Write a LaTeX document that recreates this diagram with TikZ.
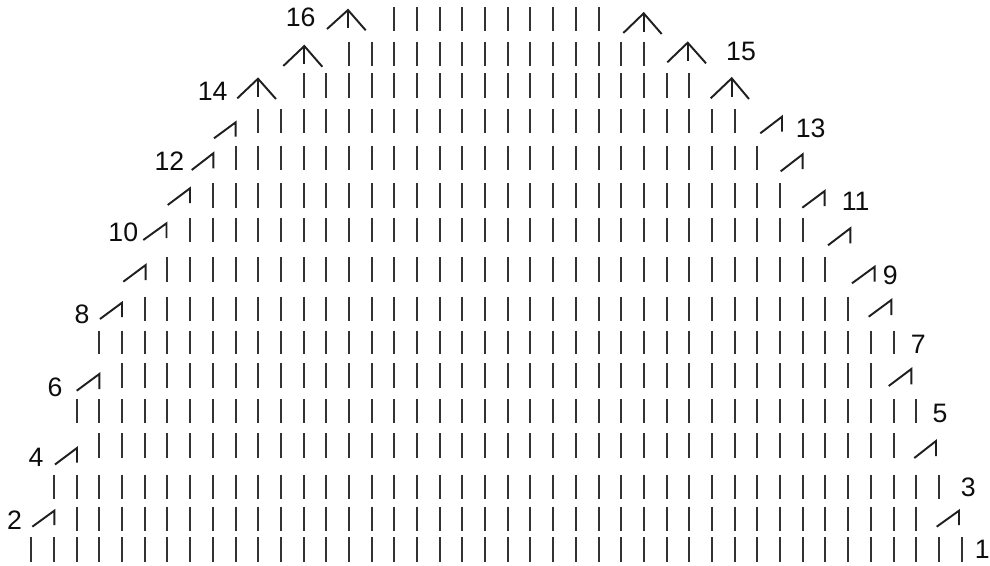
\documentclass[tikz,border=0pt]{standalone}
\usepackage{fontspec}
\setmainfont{Liberation Sans}
\tikzset{
  tick/.style={line width=1.5pt,color=black!80,line cap=butt},
  mark line/.style={line width=1.45pt,color=black!88,line cap=butt,line join=miter},
  num/.style={inner sep=0pt,font=\fontsize{20}{22}\selectfont,color=black!95}
}
\begin{document}
\begin{tikzpicture}[x=0.75pt,y=-0.75pt]
\useasboundingbox (0,0) rectangle (990,565);
% rows of ticks: top / bottom / first column / last column
\foreach \t/\b/\f/\l in {
  537.3/561.7/0/41, 506.7/531/2/39, 474.7/498.7/1/40, 433.3/457.7/3/38,
  399/423/2/39, 363.3/387.7/4/37, 330.7/354.3/3/38, 296.7/321/5/36,
  257.3/281.7/6/35, 217.7/241.7/7/34, 183.3/207.7/8/33, 145.7/170/9/32,
  109/133/10/31, 73.3/98.3/12/29, 41.7/65.7/14/27, 7/31/16/25}{
  \foreach \c in {\f,...,\l}{
    \pgfmathsetmacro{\xx}{31.3+22.69*\c}
    \draw[tick] (\xx,\t) -- (\xx,\b);
  }
}
% decrease marks: vertex x / top y / low x / low y / stem bottom
\foreach \vx/\vy/\lx/\ly/\sb in {
  54.3/510.7/32.3/526.7/525, 77/448/55/464.5/462.5, 99.3/374/76.7/390.7/389,
  122/302.7/100/319/317, 145.7/265/123.3/281.7/280, 166.5/223.3/143.3/240/238,
  190/188.3/167.7/205/203, 213.3/153.3/191.7/170/168.3, 235.7/122.3/214/138.3/136.7,
  959/510.7/936.7/526.7/525, 936/441/914.3/458/456, 911.3/369/888.7/386/384.3,
  891.3/300/868.7/316.7/315, 874.7/266.7/852/283.3/281.7, 850.3/228.3/828/245.3/243.3,
  824.7/191/802.3/207.7/206, 802.7/154.3/780.7/171.3/169, 782/116.7/760.3/133.3/131.7}{
  \draw[mark line] (\lx,\ly) -- (\vx,\vy) -- (\vx,\sb);
}
% caret marks: apex x / apex y / left x / left y / right x / right y / stem bottom
\foreach \ax/\ay/\lx/\ly/\rx/\ry/\sb in {
  258/78.7/237.3/98.3/276/99/96.7, 304.3/46/283.3/66/322.3/66.7/64.3,
  348/10/327/29/365.7/30.3/28.3, 731.7/78.3/710.7/98.3/749/99/96.7,
  687.7/42.7/667.3/62.3/706/63.3/61, 643.7/13.3/623.3/33/661.7/34/32}{
  \draw[mark line] (\lx,\ly) -- (\ax,\ay) -- (\rx,\ry);
  \draw[mark line] (\ax,\ay) -- (\ax,\sb);
}
% row numbers
\node[num] (n1) at (982.3,549) {1};
\node[num] (n2) at (14.5,520) {2};
\node[num] (n3) at (968.3,487.3) {3};
\node[num] (n4) at (36,457.3) {4};
\node[num] (n5) at (940,413.3) {5};
\node[num] (n6) at (55,387) {6};
\node[num] (n7) at (918.3,344.3) {7};
\node[num] (n8) at (82,314) {8};
\node[num] (n9) at (890.3,275) {9};
\node[num] (n10) at (123.3,232.3) {10};
\node[num] (n11) at (855.7,201.7) {11};
\node[num] (n12) at (169.5,161.3) {12};
\node[num] (n13) at (810.7,128.3) {13};
\node[num] (n14) at (212.7,91.7) {14};
\node[num] (n15) at (741,51.7) {15};
\node[num] (n16) at (300.7,17.3) {16};
\end{tikzpicture}
\end{document}
